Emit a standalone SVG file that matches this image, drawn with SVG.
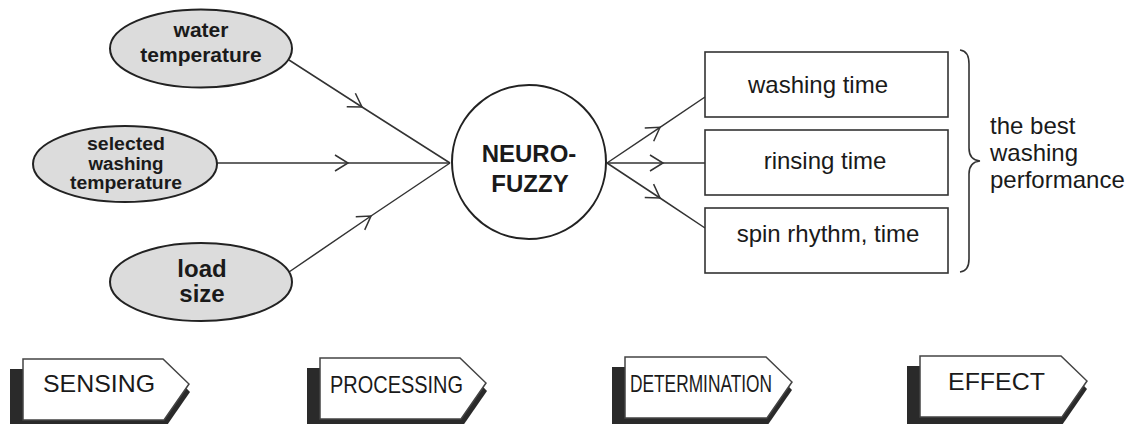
<svg xmlns="http://www.w3.org/2000/svg" width="1130" height="424" viewBox="0 0 1130 424">
  <style>
    .ell { fill: #dcdcdc; stroke: #222; stroke-width: 2; }
    .box { fill: #fff; stroke: #333; stroke-width: 1.6; }
    .circ { fill: #fff; stroke: #222; stroke-width: 2; }
    .conn { fill: none; stroke: #333; stroke-width: 1.5; marker-mid: url(#chev); }
    .b { font-family: "Liberation Sans", Arial, sans-serif; font-weight: bold; fill: #1a1a1a; text-anchor: middle; }
    .r { font-family: "Liberation Sans", Arial, sans-serif; fill: #1a1a1a; font-size: 24px; }
    .tagw { fill: #fff; stroke: #444; stroke-width: 1.5; }
    .tags { fill: #2a2a2a; }
    .tagt { font-family: "Liberation Sans", Arial, sans-serif; fill: #1a1a1a; font-size: 24px; text-anchor: middle; }
  </style>
  <defs>
    <marker id="chev" markerUnits="userSpaceOnUse" markerWidth="20" markerHeight="20" viewBox="-16 -10 18 20" refX="0" refY="0" orient="auto">
      <path d="M -13 -8 L 0 0 L -13 8" fill="none" stroke="#333" stroke-width="1.5"/>
    </marker>
  </defs>

  <g id="connectors">
    <path class="conn" d="M 289 60 L 362 107 L 450 163"/>
    <path class="conn" d="M 217 163 L 348 163 L 450 163"/>
    <path class="conn" d="M 289 272 L 371 216 L 450 163"/>
    <path class="conn" d="M 607 163 L 660 127.3 L 705 97"/>
    <path class="conn" d="M 607 163 L 663 163 L 705 163"/>
    <path class="conn" d="M 607 163 L 660 198 L 705 228"/>
  </g>

  <g id="water-temperature">
    <ellipse class="ell" cx="201" cy="48.5" rx="91" ry="39"/>
    <text class="b" font-size="21" x="201" y="37">water</text>
    <text class="b" font-size="21" x="201" y="62">temperature</text>
  </g>
  <g id="selected-washing-temperature">
    <ellipse class="ell" cx="125" cy="164" rx="92" ry="38"/>
    <text class="b" font-size="17.5" x="126" y="150" textLength="78" lengthAdjust="spacingAndGlyphs">selected</text>
    <text class="b" font-size="17.5" x="126" y="169.5" textLength="75" lengthAdjust="spacingAndGlyphs">washing</text>
    <text class="b" font-size="17.5" x="126" y="189" textLength="112" lengthAdjust="spacingAndGlyphs">temperature</text>
  </g>
  <g id="load-size">
    <ellipse class="ell" cx="201" cy="282" rx="91" ry="39"/>
    <text class="b" font-size="24" x="202" y="277">load</text>
    <text class="b" font-size="24" x="202" y="302">size</text>
  </g>

  <g id="neuro-fuzzy">
    <circle class="circ" cx="529" cy="162" r="77"/>
    <text class="b" font-size="24" x="529" y="162">NEURO-</text>
    <text class="b" font-size="24" x="530" y="192">FUZZY</text>
  </g>

  <g id="washing-time">
    <rect class="box" x="705" y="52" width="243" height="65"/>
    <text class="r" x="818" y="92.5" text-anchor="middle">washing time</text>
  </g>
  <g id="rinsing-time">
    <rect class="box" x="705" y="130" width="243" height="65"/>
    <text class="r" x="825" y="168.5" text-anchor="middle">rinsing time</text>
  </g>
  <g id="spin-rhythm">
    <rect class="box" x="705" y="208" width="243" height="65"/>
    <text class="r" x="828" y="242" text-anchor="middle">spin rhythm, time</text>
  </g>

  <g id="best-performance">
    <path d="M 960 50 Q 969 51 969 64 L 969 148 Q 969 160 980 161 Q 969 162 969 174 L 969 259 Q 969 271 960 272" fill="none" stroke="#333" stroke-width="1.6"/>
    <text class="r" x="990" y="134">the best</text>
    <text class="r" x="990" y="161">washing</text>
    <text class="r" x="990" y="188">performance</text>
  </g>

  <g id="tag-sensing">
    <polygon class="tags" points="10,369 168,369 190,392 163,431 10,431"/>
    <polygon class="tagw" points="23,359 163,359 189,384 164,420 23,420"/>
    <text class="tagt" x="99" y="392" textLength="112" lengthAdjust="spacingAndGlyphs">SENSING</text>
  </g>
  <g id="tag-processing">
    <polygon class="tags" points="307,368 465,368 487,391 460,430 307,430"/>
    <polygon class="tagw" points="320,358 460,358 486,383 461,419 320,419"/>
    <text class="tagt" x="396.5" y="393" textLength="133" lengthAdjust="spacingAndGlyphs">PROCESSING</text>
  </g>
  <g id="tag-determination">
    <polygon class="tags" points="612,367 770,367 792,390 765,429 612,429"/>
    <polygon class="tagw" points="625,357 766,357 792,382 767,418 625,418"/>
    <text class="tagt" x="701" y="392" textLength="142" lengthAdjust="spacingAndGlyphs">DETERMINATION</text>
  </g>
  <g id="tag-effect">
    <polygon class="tags" points="907,366 1065,366 1087,389 1060,428 907,428"/>
    <polygon class="tagw" points="920,356 1061,356 1087,381 1062,417 920,417"/>
    <text class="tagt" x="996.5" y="390" textLength="97" lengthAdjust="spacingAndGlyphs">EFFECT</text>
  </g>
</svg>
